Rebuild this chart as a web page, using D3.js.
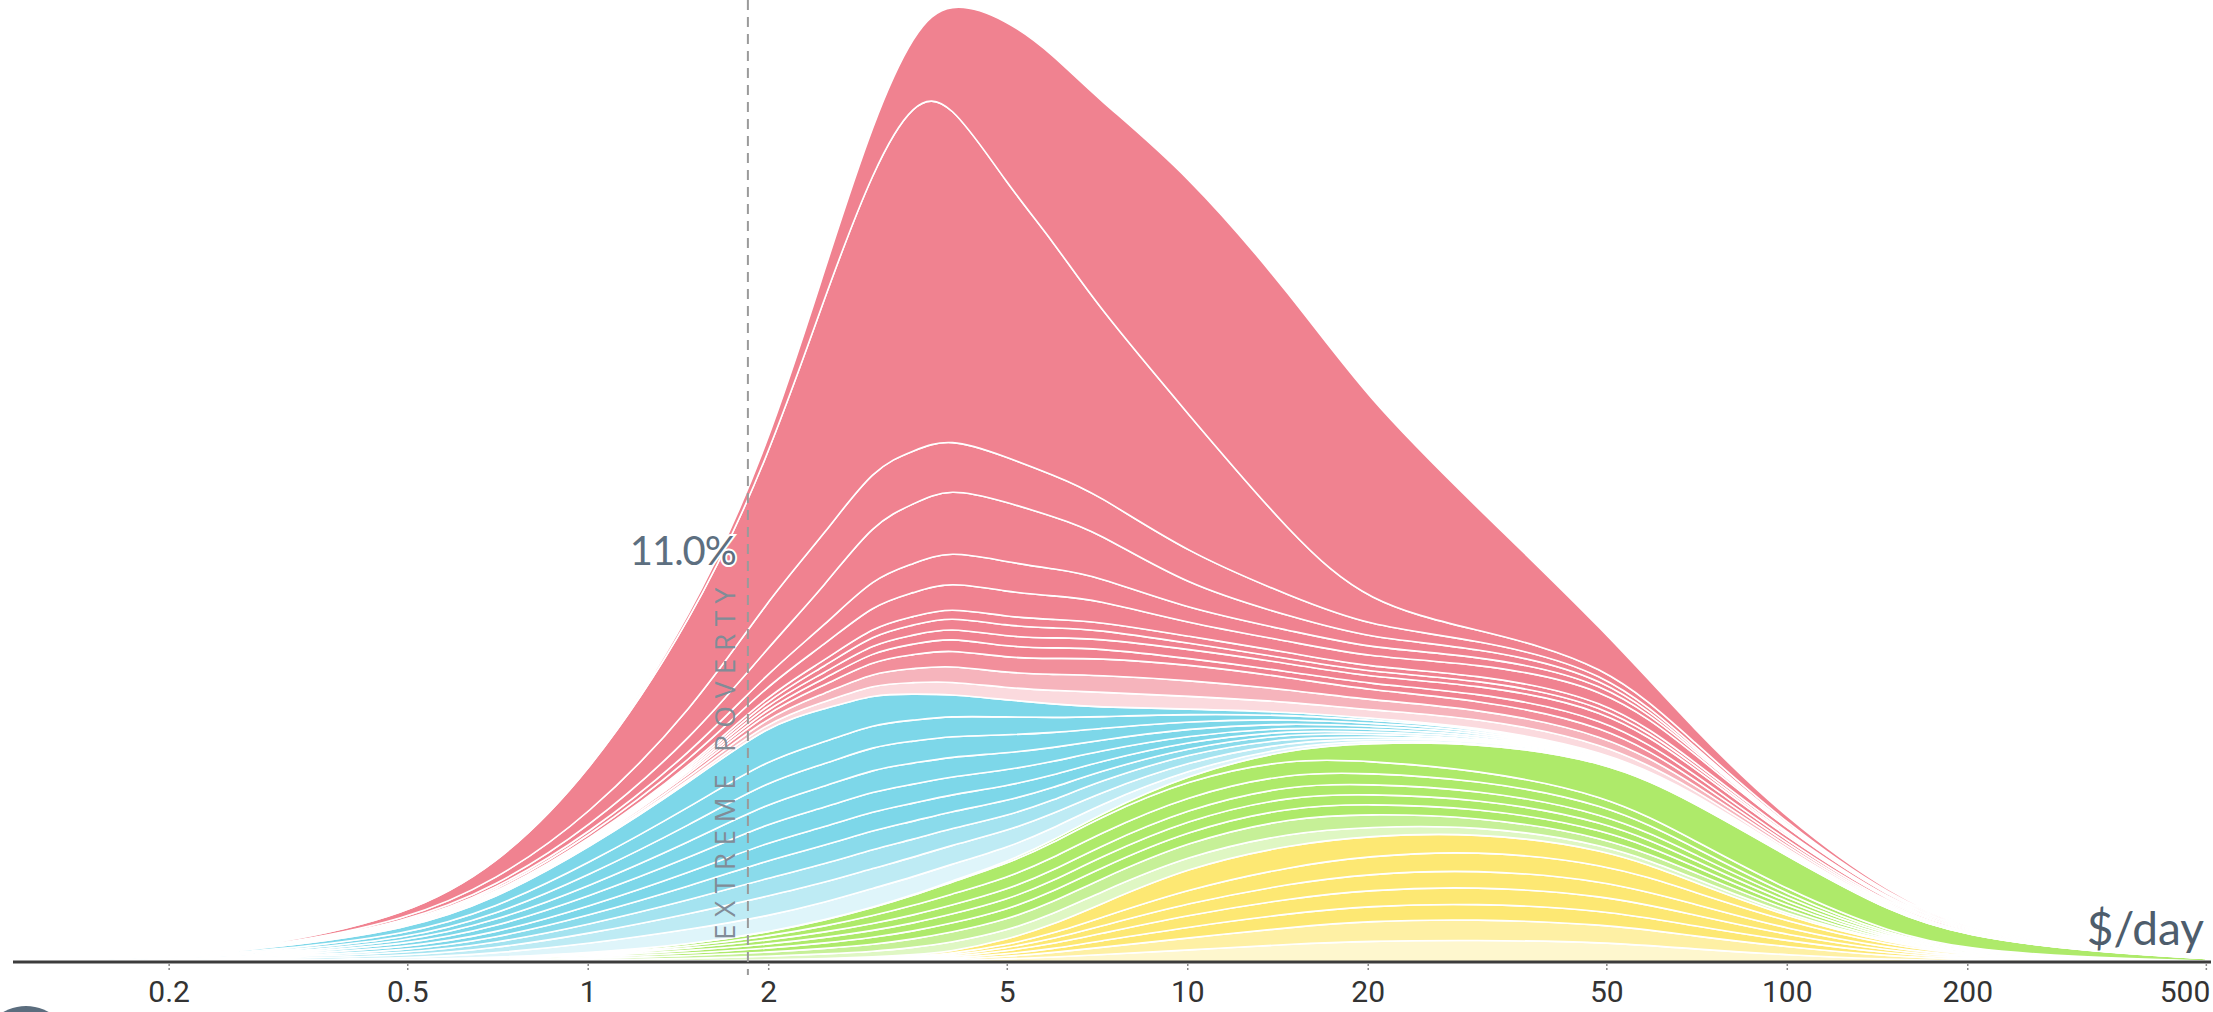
<!DOCTYPE html>
<html lang="en">
<head>
<meta charset="UTF-8" />
<title>Income mountain</title>
<style>
  body { margin: 0; background: #fff; }
  svg { display: block; }
</style>
</head>
<body>
<div class="chart"></div>
<script src="https://d3js.org/d3.v7.min.js"></script>
<script>
// income grid, $/day
var income = [0.12, 0.2, 0.3, 0.5, 0.7, 1, 1.5, 2, 2.5, 3, 3.5, 4, 5, 6, 7, 10, 15, 20, 30, 50, 70, 100, 150, 200, 300, 500];

// Europe (yellow), bottom of the stack, faint bands first
var europe7 = [0,0,0,0,0,0,.2,.3,.45,.6,1,1.5,3,5,7,12,18,21,22,20,13,7,2.5,1.2,.4,0];
var europe6 = [0,0,0,0,0,0,.1,.2,.4,.6,.9,1.2,2.5,4.5,7,12,17,20,21,18,13,8,3,1.3,.6,.1];
var europe5 = [0,0,0,0,0,.1,.1,.2,.4,.6,.9,1.2,2.5,4,6,11,14,15,16,14,10,6,2.5,1.1,.4,.1];
var europe4 = [0,0,0,0,0,.1,.1,.3,.5,.7,1,1.3,3,5,7,12,15,16,17,15,11,6,2.5,1.1,.4,.1];
var europe3 = [0,0,0,0,0,.1,.1,.3,.5,.7,1,1.3,3,5,7,12,15,16,17,15,11,6,2.5,1.1,.4,.1];
var europe2 = [0,0,0,0,0,.1,.2,.3,.55,.8,1.1,1.5,3,5.5,8,14,17,18,19,17,12,7,3,1.2,.5,.1];
var europe1 = [0,0,0,0,0,.1,.2,.4,.7,1,1.5,2,5,9,13,22,22,20,18,15,10,5,2,1,.3,0];

// Americas (green)
var america8 = [0,0,0,.3,.8,1.3,2.5,3.8,4.6,5.5,7.2,9,9,10.5,12,12,12,9,7,5,4,1.9,1,.5,.1,0];
var america7 = [0,0,0,.4,.8,1.5,3,4,5.5,7,8.5,10,11,12,13,14,15,13,9,7,6,4,1.3,.6,.2,0];
var america6 = [0,0,.1,.3,.6,1.3,2.5,4,5.5,7,8,9,10,10.5,11,11,11,10,9,8,6,4,1.2,.6,.2,.1];
var america5 = [0,0,.1,.3,.6,1.2,2.5,4,5.5,7,8,9,10,10.5,11,11,11,10,9,8,6,4,1.5,.7,.3,.1];
var america4 = [0,0,.1,.3,.6,1.2,2.5,4,5.5,7,8,9,10,10.5,11,11,11,10,9,8,6,4,1.5,.8,.4,.1];
var america3 = [0,0,.1,.3,.6,1,2,4,6,8,9.5,11,12,12.5,13,13,12,11,10,9,7,4,1.5,.8,.3,.1];
var america2 = [0,0,.1,.3,.6,1,2,4,6,8,10,12,14,15,16,16,14,12,10,9,7,5,2,1,.5,.1];
var america1 = [0,0,0,0,0,0,0,.2,.35,.5,.7,1,2,2.5,3,5,10,18,27,34,38,34,20,13,7,2.5];

// Africa (blue)
var africa10 = [0,.8,1.5,1.5,4,9,15,16,17.5,19,18,17,14,12,10,5,3,2,1,1,1,.5,.1,.1,0,0];
var africa9 = [0,.6,1.5,2.5,5,10,16,20,20,20,19.5,19,17,14.5,12,8,4,2,2,1,1,.5,.3,.2,.1,0];
var africa8 = [0,.5,1.2,2.5,5,9,14,18,18.5,19,18,17,15,13.5,12,8,4,2,1,1,1,.5,.2,.1,.1,.1];
var africa7 = [0,.5,1,2.5,5,9,14,18,18.5,19,18,17,15,12.5,10,6,4,3,1,1,1,.5,.2,.1,.1,.1];
var africa6 = [0,.5,1.2,3,5,9,14,18,18.5,19,18,17,15,12.5,10,6,3,2,2,1,1,.4,.2,.1,.1,.1];
var africa5 = [0,.5,1.2,3,6,10,15,19,19.5,20,19,18,16,13.5,11,6,3,3,2,1,1,.4,.2,.1,0,0];
var africa4 = [0,.5,1.2,3,6,10,16,20,21,22,21,20,17,14,11,7,4,3,2,1,1,.4,.2,.1,0,0];
var africa3 = [0,.5,1.2,3,6,11,17,22,22.5,23,22,21,18,15,12,7,4,3,2,1,1,.4,.2,.1,.1,0];
var africa2 = [0,.6,1.5,4,7,12,18,22,22,22,21,20,18,15,12,7,4,3,2,1,1,.4,.2,.1,.1,0];
var africa1 = [0,1,2,5,9,15,25,35,33,30,26,22,17,13.5,10,5,3,2,1,1,1,.4,.2,.1,0,0];

// Asia (red), on top; the two largest countries last
var asiaSmall3 = [0,.2,.3,.8,1,1,2,4,7,10,11.5,13,12,13.5,15,13,10,8,9,8,4,2,1,.5,.1,.1];
var asiaSmall2 = [0,.2,.3,.8,1,1.5,3,5,8.5,12,14,16,15,16,17,16,12,10,9,9,5,2.5,1.5,.6,.1,0];
var asiaSmall1 = [0,.2,.3,.8,1,1.5,3,5,8.5,12,14,16,15,16,17,16,12,10,9,9,5,2.5,1.5,.6,.1,0];
var asia8 = [0,0,.1,.4,.5,1,2,4,6.5,9,10.5,12,11,10.5,10,6,6,6,7,8,5,3,1.5,.6,.1,0];
var asia7 = [0,0,.1,.4,.5,1,2,4,6,8,9,10,10,10,10,9,8,7,8,9,6,4,2,.8,.2,.1];
var asia6 = [0,0,.1,.4,.5,1,2,4,6.5,9,10,11,11,10,9,6,5,5,5,5,3,2,1,.4,.1,0];
var asia5 = [0,0,.1,.4,.5,1,2,4,6,8,8.5,9,9,8.5,8,7,6,5,5,5,3,2,1,.4,.1,0];
var asia4 = [0,.1,.2,1,2,3,6,10,16,22,24,26,25,23.5,22,13,11,10,11,12,8,4,2,1,.2,0];
var asia3 = [0,.1,.2,1,2,3,7,12,19.5,27,29,31,30,27,24,14,11,9,8,6,3,1,.5,.2,0,0];
var asia2 = [0,.1,.3,1.5,3,6,14,25,40,55,60,63,60,52,45,23,14,10,8,5,2,1,.5,.2,0,0];
var asia1 = [0,.1,.3,2,6,12,28,48,52,55,53,50,45,41.5,38,33,20,12,8,5,2,1,.5,.2,0,0];
var india = [0,0,1,5,14,40,90,140,240,300,352,340,273,233,190,140,60,22,10,7,4,2,1,.5,0,0];
var china = [0,0,0,0,.5,1,4,12,28,48,68,98,165,187,206,240,240,205,125,30,12,5,2,1,.5,0];

var tickValues = [0.2, 0.5, 1, 2, 5, 10, 20, 50, 100, 200, 500];
var povertyLine = 1.85;
var povertyShare = "11.0%";

// bands from the bottom of the stack to the top
var bands = [
  {key: "europe7", values: europe7, region: "europe", fade: 0.65},
  {key: "europe6", values: europe6, region: "europe", fade: 0.35},
  {key: "europe5", values: europe5, region: "europe", fade: 0},
  {key: "europe4", values: europe4, region: "europe", fade: 0},
  {key: "europe3", values: europe3, region: "europe", fade: 0},
  {key: "europe2", values: europe2, region: "europe", fade: 0},
  {key: "europe1", values: europe1, region: "europe", fade: 0},
  {key: "america8", values: america8, region: "america", fade: 0.6},
  {key: "america7", values: america7, region: "america", fade: 0.3},
  {key: "america6", values: america6, region: "america", fade: 0},
  {key: "america5", values: america5, region: "america", fade: 0},
  {key: "america4", values: america4, region: "america", fade: 0},
  {key: "america3", values: america3, region: "america", fade: 0},
  {key: "america2", values: america2, region: "america", fade: 0},
  {key: "america1", values: america1, region: "america", fade: 0},
  {key: "africa10", values: africa10, region: "africa", fade: 0.75},
  {key: "africa9", values: africa9, region: "africa", fade: 0.5},
  {key: "africa8", values: africa8, region: "africa", fade: 0.3},
  {key: "africa7", values: africa7, region: "africa", fade: 0.1},
  {key: "africa6", values: africa6, region: "africa", fade: 0},
  {key: "africa5", values: africa5, region: "africa", fade: 0},
  {key: "africa4", values: africa4, region: "africa", fade: 0},
  {key: "africa3", values: africa3, region: "africa", fade: 0},
  {key: "africa2", values: africa2, region: "africa", fade: 0},
  {key: "africa1", values: africa1, region: "africa", fade: 0},
  {key: "asiaSmall3", values: asiaSmall3, region: "asia", fade: 0.7},
  {key: "asiaSmall2", values: asiaSmall2, region: "asia", fade: 0.4},
  {key: "asiaSmall1", values: asiaSmall1, region: "asia", fade: 0.1},
  {key: "asia8", values: asia8, region: "asia", fade: 0},
  {key: "asia7", values: asia7, region: "asia", fade: 0},
  {key: "asia6", values: asia6, region: "asia", fade: 0},
  {key: "asia5", values: asia5, region: "asia", fade: 0},
  {key: "asia4", values: asia4, region: "asia", fade: 0},
  {key: "asia3", values: asia3, region: "asia", fade: 0},
  {key: "asia2", values: asia2, region: "asia", fade: 0},
  {key: "asia1", values: asia1, region: "asia", fade: 0},
  {key: "india", values: india, region: "asia", fade: 0},
  {key: "china", values: china, region: "asia", fade: 0}
];

var regionColor = {
  europe: "#fde873",
  america: "#aeea6a",
  africa: "#7dd7e9",
  asia: "#f08290"
};

var w = 2213, h = 1012;

var rows = income.map(function(v, i) {
  var row = {income: v};
  bands.forEach(function(b) { row[b.key] = b.values[i]; });
  return row;
});

var series = d3.stack().keys(bands.map(function(b) { return b.key; }))(rows);

var x = d3.scaleLog().domain([0.11, 510]).range([13, 2211]);
var y = d3.scaleLinear().domain([0, 962]).range([962, 0]);

var svg = d3.select(".chart").append("svg")
  .attr("width", w)
  .attr("height", h);

var area = d3.area()
  .x(function(d) { return x(d.data.income); })
  .y0(function(d) { return y(d[0]); })
  .y1(function(d) { return y(d[1]); })
  .curve(d3.curveBasis);

svg.append("g").selectAll("path")
  .data(series)
  .enter()
  .append("path")
  .attr("d", area)
  .attr("fill", function(d, i) {
    var b = bands[i];
    return d3.interpolateRgb(regionColor[b.region], "#ffffff")(b.fade);
  })
  .attr("stroke", "#fff")
  .attr("stroke-width", 1.6)
  .attr("stroke-linejoin", "round");

// axis
var axis = d3.axisBottom(x)
  .tickValues(tickValues)
  .tickFormat(function(d) { return d; })
  .tickSize(9)
  .tickPadding(10);

var gx = svg.append("g")
  .attr("transform", "translate(0," + 962 + ")")
  .call(axis);

gx.select(".domain")
  .attr("d", "M13,0H2211")
  .attr("stroke", "#3c3c3c")
  .attr("stroke-width", 3);

gx.selectAll(".tick line")
  .attr("stroke", "#8a8a8a")
  .attr("stroke-width", 1.5)
  .attr("stroke-dasharray", "2,2")
  .attr("y1", 2);

gx.selectAll(".tick text")
  .attr("fill", "#333")
  .attr("font-family", "Roboto, 'Liberation Sans', sans-serif")
  .attr("font-size", 30);

// last label sits flush with the right edge
gx.selectAll(".tick text")
  .filter(function(d) { return d === 500; })
  .attr("text-anchor", "end")
  .attr("dx", 4);

// extreme poverty line
svg.append("line")
  .attr("x1", x(povertyLine))
  .attr("x2", x(povertyLine))
  .attr("y1", 0)
  .attr("y2", 975)
  .attr("stroke", "#9a9a9a")
  .attr("stroke-width", 2)
  .attr("stroke-dasharray", "10,7");

svg.append("text")
  .attr("transform", "translate(" + (x(povertyLine) - 13) + ",940) rotate(-90)")
  .attr("font-family", "'Open Sans', Lato, sans-serif")
  .attr("font-size", 28)
  .attr("letter-spacing", 7.5)
  .attr("fill", "#818c97")
  .text("EXTREME POVERTY");

svg.append("text")
  .attr("x", x(povertyLine) - 12)
  .attr("y", 565)
  .attr("text-anchor", "end")
  .attr("font-family", "Lato, 'Open Sans', sans-serif")
  .attr("font-size", 40)
  .attr("letter-spacing", -1)
  .attr("fill", "#5d6f80")
  .attr("stroke", "#fff")
  .attr("stroke-width", 4)
  .attr("paint-order", "stroke")
  .text(povertyShare);

svg.append("text")
  .attr("x", 2204)
  .attr("y", 945)
  .attr("text-anchor", "end")
  .attr("font-family", "Lato, 'Open Sans', sans-serif")
  .attr("font-size", 46)
  .attr("fill", "#4e5d6c")
  .text("$/day");

// play button peeking in at the bottom left
svg.append("circle")
  .attr("cx", 26)
  .attr("cy", 1052)
  .attr("r", 46)
  .attr("fill", "#5b6d7e");
</script>
</body>
</html>
